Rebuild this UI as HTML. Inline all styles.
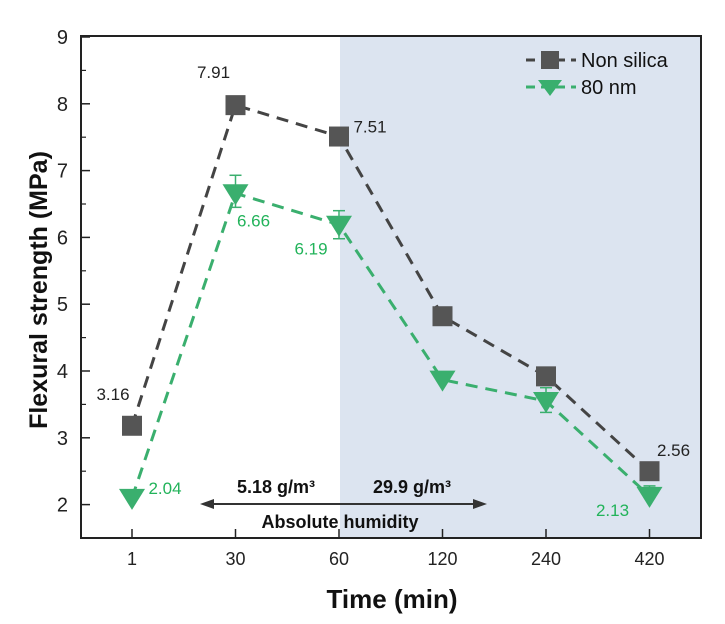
<!DOCTYPE html>
<html><head><meta charset="utf-8"><style>
body{margin:0;background:#fff;}
svg{display:block;font-family:"Liberation Sans",Arial,sans-serif;}
</style></head><body>
<svg id="chart" width="725" height="624" viewBox="0 0 725 624">
<rect x="340" y="36" width="361" height="502" fill="#dce4f0"/>
<g id="grid"></g>
<g id="series"></g>
<rect x="81" y="36" width="620" height="502" fill="none" stroke="#222" stroke-width="2"/>
<text x="0" y="0" transform="translate(47,290) rotate(-90)" text-anchor="middle" font-size="25" font-weight="bold" fill="#111">Flexural strength (MPa)</text>
<text x="392" y="608" text-anchor="middle" font-size="26" font-weight="bold" fill="#111">Time (min)</text>
<g>
<line x1="210" y1="504" x2="478" y2="504" stroke="#333" stroke-width="2"/>
<polygon points="200,504 214,499 214,509" fill="#333"/>
<polygon points="487,504 473,499 473,509" fill="#333"/>
<text x="276" y="493" text-anchor="middle" font-size="18" font-weight="bold" fill="#111">5.18 g/m³</text>
<text x="412" y="493" text-anchor="middle" font-size="18" font-weight="bold" fill="#111">29.9 g/m³</text>
<text x="340" y="528" text-anchor="middle" font-size="18" font-weight="bold" fill="#111">Absolute humidity</text>
</g>
<g>
<line x1="526" y1="60" x2="576" y2="60" stroke="#444" stroke-width="3" stroke-dasharray="9,6"/>
<rect x="541" y="51" width="18" height="18" fill="#555"/>
<text x="581" y="67" font-size="20" fill="#111">Non silica</text>
<line x1="526" y1="87" x2="576" y2="87" stroke="#3aaf6e" stroke-width="3" stroke-dasharray="9,6"/>
<polygon points="538,80 562,80 550,96" fill="#3aaf6e"/>
<text x="581" y="94" font-size="20" fill="#111">80 nm</text>
</g>
</svg>
<script>
const categories=["1","30","60","120","240","420"];
const yTicks=[2,3,4,5,6,7,8,9];
const nonSilica=[3.18,7.98,7.51,4.82,3.92,2.5];
const nm80=[2.1,6.66,6.19,3.87,3.55,2.13];
const nm80ErrHi=[2.1,6.93,6.4,3.87,3.75,2.28];
const nm80ErrLo=[2.1,6.45,5.98,3.87,3.38,2.13];
const nonSilicaLabels=["3.16","7.91","7.51","","","2.56"];
const nm80Labels=["2.04","6.66","6.19","","","2.13"];
const NS="http://www.w3.org/2000/svg";
const xs=i=>132+i*103.5;
const ys=v=>37+(9-v)*66.8;
function mk(t,a,p){const e=document.createElementNS(NS,t);for(const k in a)e.setAttribute(k,a[k]);p.appendChild(e);return e;}
const grid=document.getElementById('grid'),ser=document.getElementById('series');
yTicks.forEach(v=>{
 const l=mk('line',{x1:81,x2:90,y1:ys(v),y2:ys(v),stroke:'#222','stroke-width':1.5},grid);
 
 
 if(v<9){const m=mk('line',{x1:81,x2:86,y1:ys(v+0.5),y2:ys(v+0.5),stroke:'#222','stroke-width':1.2},grid);
 
 }
 const t=mk('text',{x:68,y:ys(v)+7,'text-anchor':'end','font-size':20,fill:'#222'},grid);t.textContent=v;
 
 
});
categories.forEach((c,i)=>{
 const l=mk('line',{x1:xs(i),x2:xs(i),y1:538,y2:529,stroke:'#222','stroke-width':1.5},grid);
 
 
 const t=mk('text',{x:xs(i),y:565,'text-anchor':'middle','font-size':18,fill:'#222'},grid);t.textContent=c;
 
 
});
function line(vals,col,name){
 const p=mk('polyline',{points:vals.map((v,i)=>xs(i)+','+ys(v)).join(' '),fill:'none',stroke:col,'stroke-width':3,'stroke-dasharray':'12,8'},ser);
 
 
}
line(nonSilica,'#444','non-silica-line');
line(nm80,'#3aaf6e','80nm-line');
nm80.forEach((v,i)=>{
 if(nm80ErrHi[i]!==nm80ErrLo[i]){
  const g=mk('g',{stroke:'#3aaf6e','stroke-width':1.5},ser);
  
  
  mk('line',{x1:xs(i),x2:xs(i),y1:ys(nm80ErrHi[i]),y2:ys(nm80ErrLo[i])},g);
  mk('line',{x1:xs(i)-6,x2:xs(i)+6,y1:ys(nm80ErrHi[i]),y2:ys(nm80ErrHi[i])},g);
  mk('line',{x1:xs(i)-6,x2:xs(i)+6,y1:ys(nm80ErrLo[i]),y2:ys(nm80ErrLo[i])},g);
 }
});
nonSilica.forEach((v,i)=>{
 const r=mk('rect',{x:xs(i)-10,y:ys(v)-10,width:20,height:20,fill:'#555'},ser);
 
 
});
nm80.forEach((v,i)=>{
 const x=xs(i),y=ys(v);
 const p=mk('polygon',{points:`${x-13},${y-9} ${x+13},${y-9} ${x},${y+12}`,fill:'#3aaf6e'},ser);
 
 
});
const nsOff=[[-19,-26],[-22,-27],[31,-4],[0,0],[0,0],[24,-15]];
nonSilica.forEach((v,i)=>{if(!nonSilicaLabels[i])return;
 const t=mk('text',{x:xs(i)+nsOff[i][0],y:ys(v)+nsOff[i][1],'text-anchor':'middle','font-size':17,fill:'#222'},ser);t.textContent=nonSilicaLabels[i];
 
 
});
const nmOff=[[33,-4],[18,33],[-28,30],[0,0],[0,0],[-37,20]];
nm80.forEach((v,i)=>{if(!nm80Labels[i])return;
 const t=mk('text',{x:xs(i)+nmOff[i][0],y:ys(v)+nmOff[i][1],'text-anchor':'middle','font-size':17,fill:'#22b35a'},ser);t.textContent=nm80Labels[i];
 
 
});
</script>
</body></html>
